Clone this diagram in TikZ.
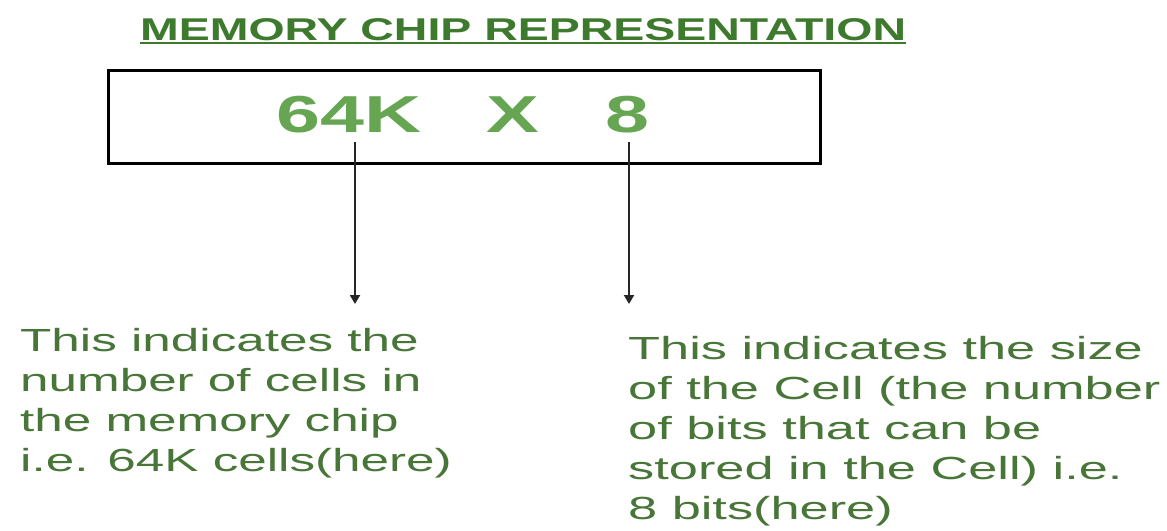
\documentclass[tikz,border=0pt]{standalone}
\usepackage{fontspec}
\usetikzlibrary{arrows.meta}
\newfontfamily\bodyfont[FakeStretch=1.6]{Liberation Sans}
\newfontfamily\rightbodyfont[FakeStretch=1.635]{Liberation Sans}
\newfontfamily\titlefont[FakeStretch=1.475]{Liberation Sans}
\newfontfamily\bigfont[FakeStretch=1.52]{Liberation Sans}
\definecolor{titlegreen}{RGB}{62,122,46}
\definecolor{biggreen}{RGB}{102,166,82}
\definecolor{bodygreen}{RGB}{72,118,56}
\tikzset{
  titletext/.style={inner sep=0pt, text=titlegreen, font=\titlefont\bfseries\fontsize{31.5pt}{36pt}\selectfont},
  bigtext/.style={inner sep=0pt, text=biggreen, font=\bigfont\bfseries\fontsize{52pt}{60pt}\selectfont},
  bodytext/.style={inner sep=0pt, text=bodygreen, align=left, font=\bodyfont\fontsize{32pt}{40pt}\selectfont},
  rightbodytext/.style={bodytext, font=\rightbodyfont\fontsize{32pt}{40pt}\selectfont},
  chipbox/.style={draw=black, line width=3pt, inner sep=0pt, minimum width=712pt, minimum height=93pt},
  pointer/.style={draw=black!85, line width=2pt, -{Triangle[width=10pt,length=9pt]}},
}
\begin{document}
\begin{tikzpicture}[x=1pt,y=-1pt]
\fill[white] (0,0) rectangle (1167,530);
\useasboundingbox (0,0) rectangle (1167,530);
% title
\node[titletext, anchor=base west] (title) at (140,40) {MEMORY CHIP REPRESENTATION};
\draw[titlegreen, line width=2pt] ([yshift=-3pt]title.base west) -- ([yshift=-3pt]title.base east);
% chip box
\node[chipbox] (chip) at (464,116.5) {};
\node[bigtext, anchor=base west] (cells) at (276,132) {64K};
\node[bigtext, anchor=base west] (times) at (486,132) {X};
\node[bigtext, anchor=base west] (bits) at (605,132) {8};
% pointers
\coordinate (p1s) at (355,142);
\coordinate (p1e) at (355,304);
\coordinate (p2s) at (629,142);
\coordinate (p2e) at (629,304);
\draw[pointer] (p1s) -- (p1e);
\draw[pointer] (p2s) -- (p2e);
% explanations
\node[bodytext, anchor=north west] (lefttext) at (20,328) {This indicates the\\number of cells in\\the memory chip\\i.e. 64K cells(here)};
\node[rightbodytext, anchor=north west] (righttext) at (628,336) {This indicates the size\\of the Cell (the number\\of bits that can be\\stored in the Cell) i.e.\\8 bits(here)};
\end{tikzpicture}
\end{document}
